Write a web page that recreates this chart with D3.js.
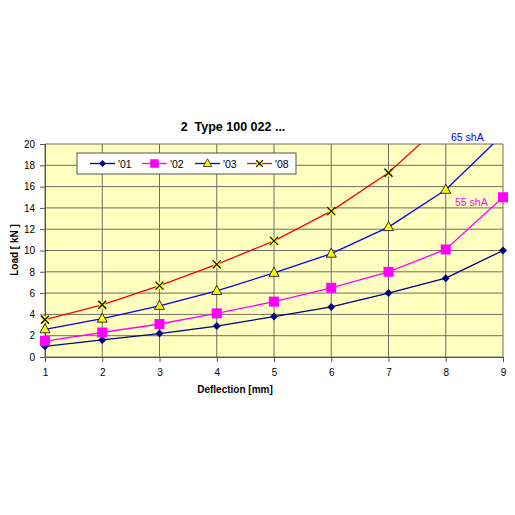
<!DOCTYPE html>
<html>
<head>
<meta charset="utf-8">
<script src="https://cdn.jsdelivr.net/npm/d3@7"></script>
<style>
  html, body { margin: 0; padding: 0; background: #fff; }
  svg { display: block; font-family: "Liberation Sans", Arial, sans-serif; }
</style>
</head>
<body>
<svg id="chart" width="515" height="515"></svg>
<script>
// load vs deflection, four production years
const deflection = [1, 2, 3, 4, 5, 6, 7, 8, 9];
const load01 = [1.0, 1.6, 2.2, 2.9, 3.8, 4.7, 6.0, 7.4, 10.0];
const load02 = [1.5, 2.3, 3.1, 4.1, 5.2, 6.5, 8.0, 10.1, 15.0];
const load03 = [2.6, 3.6, 4.8, 6.2, 7.9, 9.7, 12.2, 15.7, 20.9];
const load08 = [3.5, 4.9, 6.7, 8.7, 10.9, 13.7, 17.3, 22.2];
const seriesNames = ["'01", "'02", "'03", "'08"];
const yTicks = [0, 2, 4, 6, 8, 10, 12, 14, 16, 18, 20];

const series = [
  { name: seriesNames[0], values: load01, color: '#000080', marker: 'diamond' },
  { name: seriesNames[1], values: load02, color: '#ff00ff', marker: 'square' },
  { name: seriesNames[2], values: load03, color: '#0000ff', marker: 'triangle' },
  { name: seriesNames[3], values: load08, color: '#ff0000', marker: 'cross' },
];

const svg = d3.select('#chart');
const x = d3.scaleLinear().domain([1, 9]).range([45, 503]);
const y = d3.scaleLinear().domain([0, 20]).range([357, 144]);

// plot area
svg.append('rect')
  .attr('x', x(1)).attr('y', y(20))
  .attr('width', x(9) - x(1)).attr('height', y(0) - y(20))
  .attr('fill', '#ffffc0');

const grid = svg.append('g').attr('stroke', '#6e6e60').attr('stroke-width', 1);
grid.selectAll('line.h').data(yTicks).join('line')
  .attr('x1', x(1)).attr('x2', x(9))
  .attr('y1', d => y(d)).attr('y2', d => y(d));
grid.selectAll('line.v').data(deflection).join('line')
  .attr('y1', y(0)).attr('y2', y(20))
  .attr('x1', d => x(d)).attr('x2', d => x(d));

// axes
const yAxis = svg.append('g').attr('transform', `translate(${x(1)},0)`)
  .call(d3.axisLeft(y).tickValues(yTicks).tickSize(5).tickPadding(5));
const xAxis = svg.append('g').attr('transform', `translate(0,${y(0)})`)
  .call(d3.axisBottom(x).tickValues(deflection).tickSize(5).tickPadding(7));
[xAxis, yAxis].forEach(a => {
  a.selectAll('path, line').attr('stroke', '#555');
  a.selectAll('text').attr('font-size', 10).attr('fill', '#000')
    .style('font-family', '"Liberation Sans", Arial, sans-serif');
});

// series
svg.append('clipPath').attr('id', 'plot-clip')
  .append('rect').attr('x', x(1) - 8).attr('y', y(20))
  .attr('width', x(9) - x(1) + 16).attr('height', y(0) - y(20) + 8);

const line = d3.line()
  .x((d, i) => x(deflection[i]))
  .y(d => y(d));

function drawMarker(g, kind, color) {
  if (kind === 'diamond') {
    g.append('path').attr('d', 'M0,-4L4,0L0,4L-4,0Z').attr('fill', color);
  } else if (kind === 'square') {
    g.append('rect').attr('x', -5).attr('y', -5).attr('width', 10).attr('height', 10).attr('fill', color);
  } else if (kind === 'triangle') {
    g.append('path').attr('d', 'M0,-5.5L5,3.5L-5,3.5Z')
      .attr('fill', '#ffff00').attr('stroke', '#000').attr('stroke-width', 0.8);
  } else {
    g.append('rect').attr('x', -3.5).attr('y', -3.5).attr('width', 7).attr('height', 7).attr('fill', '#ffff00');
    g.append('path').attr('d', 'M-4,-4L4,4M-4,4L4,-4')
      .attr('stroke', '#000').attr('stroke-width', 1.3);
  }
}

const plot = svg.append('g').attr('clip-path', 'url(#plot-clip)');
series.forEach(s => {
  plot.append('path')
    .attr('d', line(s.values))
    .attr('fill', 'none')
    .attr('stroke', s.color)
    .attr('stroke-width', 1.3);
});
series.forEach(s => {
  s.values.forEach((v, i) => {
    if (v > 20) return;
    const g = svg.append('g').attr('transform', `translate(${x(deflection[i])},${y(v)})`);
    drawMarker(g, s.marker, s.color);
  });
});

// legend
const legend = svg.append('g');
legend.append('rect')
  .attr('x', 77).attr('y', 153).attr('width', 219).attr('height', 21)
  .attr('fill', '#fff').attr('stroke', '#555').attr('stroke-width', 1);
const legendX = [90, 142, 195, 247];
series.forEach((s, i) => {
  const gx = legendX[i];
  legend.append('line')
    .attr('x1', gx).attr('x2', gx + 25).attr('y1', 163.5).attr('y2', 163.5)
    .attr('stroke', s.color).attr('stroke-width', 1.3);
  const m = legend.append('g').attr('transform', `translate(${gx + 12.5},163.5) scale(0.85)`);
  drawMarker(m, s.marker, s.color);
  legend.append('text')
    .attr('x', gx + 28).attr('y', 167.5)
    .attr('font-size', 10.5)
    .text(s.name);
});

// labels
svg.append('text')
  .attr('x', 233).attr('y', 131)
  .attr('text-anchor', 'middle')
  .attr('font-size', 12.5).attr('font-weight', 'bold')
  .text('2\u00a0 Type 100 022 ...');

svg.append('text')
  .attr('x', 235).attr('y', 393)
  .attr('text-anchor', 'middle')
  .attr('font-size', 10).attr('font-weight', 'bold')
  .text('Deflection [mm]');

svg.append('text')
  .attr('transform', 'translate(18,250) rotate(-90)')
  .attr('text-anchor', 'middle')
  .attr('font-size', 10).attr('font-weight', 'bold')
  .text('Load [ kN ]');

svg.append('text')
  .attr('x', 451).attr('y', 141)
  .attr('font-size', 10.5).attr('fill', '#0000ff')
  .text('65 shA');

svg.append('text')
  .attr('x', 455).attr('y', 206)
  .attr('font-size', 10.5).attr('fill', '#ff00ff')
  .text('55 shA');
</script>
</body>
</html>
